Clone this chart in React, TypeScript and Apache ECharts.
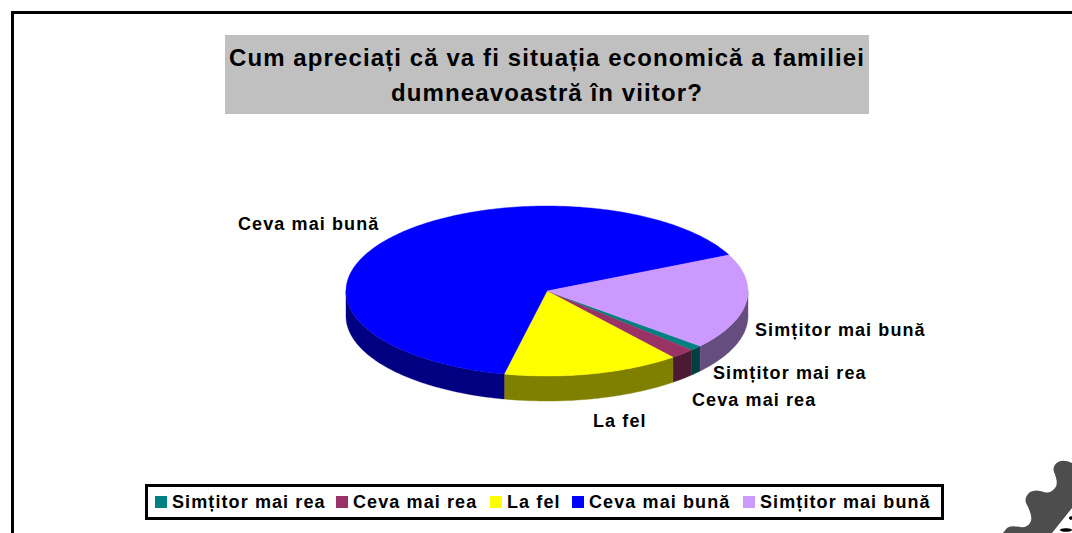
import React, { useEffect, useRef } from "react";
import * as echarts from "echarts";

const titleLines = ["Cum apreciați că va fi situația economică a familiei", "dumneavoastră în viitor?"];
const categories = ["Simțitor mai rea", "Ceva mai rea", "La fel", "Ceva mai bună", "Simțitor mai bună"];
const values = [1, 2, 14.2, 64.6, 18.2];
const topColors = ["#008080", "#993366", "#ffff00", "#0000ff", "#cc99ff"];
const sideColors = ["#004040", "#4d1a33", "#808000", "#000080", "#664d80"];
const labelAnchors: [number, number][] = [
  [713, 373],
  [692, 400],
  [593, 421],
  [238, 224],
  [755, 330],
];
const legendIconX = [155, 336, 490, 572, 743];

const LETTER_SPACING = 1.1;
const CX = 547, CY = 291, RX = 201, RY = 85, DEPTH = 25;
const START_DEG = 40.4;
const GEAR = "M1072 463 Q1064 459 1058 462 Q1052 466 1054 472 Q1059 484 1055 488 Q1050 494 1044 492 Q1036 489 1030 492 Q1024 497 1026 503 Q1034 518 1030 523 Q1027 528 1020 527 Q1010 525 1007 528 L1003 533 L1052 533 L1072 508 Z";

function pt(deg: number, dy = 0): string {
  const a = (deg * Math.PI) / 180;
  return `${(CX + RX * Math.cos(a)).toFixed(2)} ${(CY + dy + RY * Math.sin(a)).toFixed(2)}`;
}
function arcPath(a0: number, a1: number, dy = 0): string[] {
  const out: string[] = [];
  for (let a = a0; a < a1; a += 1) out.push(pt(a, dy));
  out.push(pt(a1, dy));
  return out;
}

const total = values.reduce((s, v) => s + v, 0);

export default function App() {
  const ref = useRef<HTMLDivElement>(null);
  useEffect(() => {
    echarts.graphic.registerShape("gear", echarts.graphic.extendPath(GEAR as any, {} as any) as any);
    const chart = echarts.init(ref.current!, undefined, { renderer: "svg" });
    const series = categories.map((name, i) => ({
      type: "custom",
      name,
      coordinateSystem: "none",
      silent: true,
      itemStyle: { color: topColors[i] },
      data: [[i, values[i], values.slice(0, i).reduce((s, v) => s + v, 0)]],
      renderItem: (_: any, api: any) => {
        const a0 = START_DEG + (api.value(2) / total) * 360;
        const a1 = a0 + (api.value(1) / total) * 360;
        const children: any[] = [];
        const ranges: [number, number][] = [
          [Math.max(a0, 0), Math.min(a1, 180)],
          [Math.max(a0, 360), Math.min(a1, 540)],
        ];
        ranges.forEach(([s, e]) => {
          if (e > s) {
            const pts = [...arcPath(s, e), ...arcPath(s, e, DEPTH).reverse()];
            const d = "M" + pts.join(" L") + " Z";
            children.push({ type: "path", shape: { pathData: d }, style: { fill: sideColors[api.value(0)], stroke: sideColors[api.value(0)], lineWidth: 0.4 } });
          }
        });
        const top = `M${CX} ${CY} L` + arcPath(a0, a1).join(" L") + " Z";
        children.push({ type: "path", shape: { pathData: top }, style: { fill: topColors[api.value(0)], stroke: topColors[api.value(0)], lineWidth: 0.4 } });
        return { type: "group", children };
      },
    }));
    chart.setOption({
      animation: false,
      backgroundColor: "#ffffff",
      legend: categories.map((name, i) => ({
        data: [name],
        left: legendIconX[i],
        top: 493,
        padding: 0,
        orient: "horizontal",
        icon: "rect",
        itemWidth: 12,
        itemHeight: 12,
        selectedMode: false,
        z: 3,
        textStyle: { color: "#000", fontFamily: "Liberation Sans", fontWeight: "bold", fontSize: 18 },
      })),
      graphic: [
        { type: "rect", shape: { x: 12.5, y: 12.5, width: 1100, height: 560 }, style: { fill: "transparent", stroke: "#000", lineWidth: 3 }, z: 0 },
        { type: "rect", shape: { x: 225, y: 35, width: 644, height: 79 }, style: { fill: "#c0c0c0" }, z: 1 },
        { type: "rect", shape: { x: 146.5, y: 485.5, width: 796, height: 33 }, style: { fill: "#fff", stroke: "#000", lineWidth: 3 }, z: 1 },
        ...titleLines.map((t, i) => ({
          type: "text", x: 547, y: 57 + i * 35, z: 2,
          style: { text: t, fill: "#000", font: "bold 24px 'Liberation Sans'", align: "center", verticalAlign: "middle" },
        })),
        ...categories.map((t, i) => ({
          type: "text", x: labelAnchors[i][0], y: labelAnchors[i][1], z: 2,
          style: { text: t, fill: "#000", font: "bold 18px 'Liberation Sans'", align: "left", verticalAlign: "middle" },
        })),
        { type: "gear", z: 2, style: { fill: "#4d4d4d" } },
        { type: "ellipse", z: 2, shape: { cx: 1066, cy: 530, rx: 6, ry: 1.8 }, style: { fill: "#000" } },
        { type: "ellipse", z: 2, shape: { cx: 1071, cy: 518, rx: 2, ry: 1.8 }, style: { fill: "#000" } },
      ],
      series,
    });
    return () => chart.dispose();
  }, []);
  return <div ref={ref} style={{ width: 1072, height: 533, position: "absolute", left: 0, top: 0, letterSpacing: LETTER_SPACING }} />;
}
